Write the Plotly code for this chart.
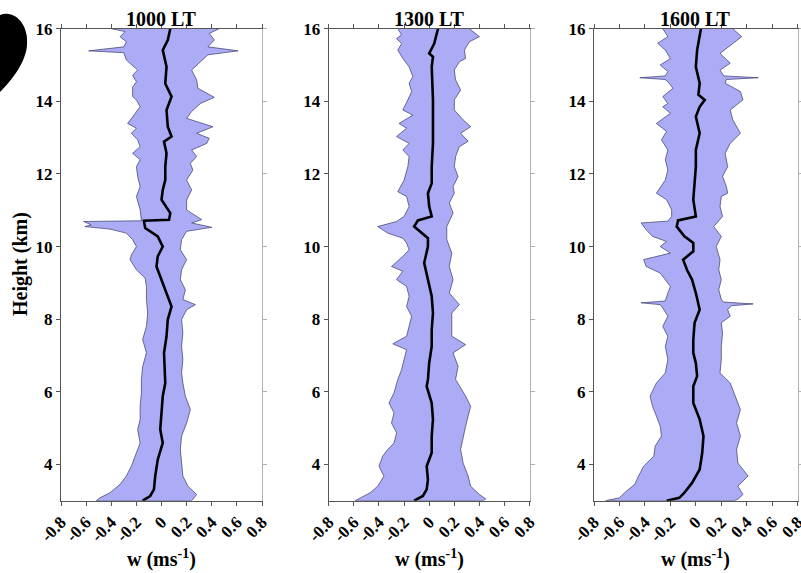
import plotly.graph_objects as go

# ---------------- data ----------------
panel_titles = ["1000 LT", "1300 LT", "1600 LT"]
x_tickvals = [-0.8, -0.6, -0.4, -0.2, 0, 0.2, 0.4, 0.6, 0.8]
x_ticktext = ["-0.8", "-0.6", "-0.4", "-0.2", "0", "0.2", "0.4", "0.6", "0.8"]
y_tickvals = [4, 6, 8, 10, 12, 14, 16]

# 1000 LT
h_lo_1000 = [16.00,15.92,15.78,15.64,15.50,15.39,15.34,15.14,14.86,14.72,14.54,14.39,14.13,14.04,13.85,13.67,13.39,13.26,13.12,12.94,12.75,12.57,12.39,12.20,11.93,11.65,11.38,11.01,10.71,10.69,10.60,10.55,10.48,10.37,10.19,10.00,9.77,9.64,9.36,9.13,8.90,8.54,8.17,7.80,7.44,7.07,6.70,6.34,5.97,5.60,5.24,4.96,4.59,4.32,3.95,3.68,3.45,3.22,3.08,3.00]
w_lo_1000 = [-0.40,-0.29,-0.33,-0.28,-0.30,-0.58,-0.30,-0.28,-0.19,-0.23,-0.20,-0.23,-0.23,-0.20,-0.17,-0.21,-0.27,-0.20,-0.24,-0.19,-0.17,-0.23,-0.17,-0.20,-0.19,-0.17,-0.20,-0.17,-0.16,-0.62,-0.56,-0.61,-0.41,-0.28,-0.23,-0.20,-0.24,-0.25,-0.20,-0.13,-0.12,-0.12,-0.11,-0.12,-0.15,-0.12,-0.15,-0.16,-0.16,-0.17,-0.17,-0.19,-0.17,-0.20,-0.24,-0.28,-0.33,-0.41,-0.49,-0.52]
h_hi_1000 = [16.00,15.87,15.69,15.50,15.39,15.28,15.09,14.86,14.59,14.36,14.11,13.94,13.72,13.53,13.30,13.12,12.98,12.84,12.66,12.48,12.29,12.11,11.83,11.56,11.28,11.01,10.74,10.65,10.53,10.42,10.19,9.91,9.64,9.36,9.09,8.81,8.54,8.40,8.26,7.99,7.62,7.25,6.89,6.52,6.24,5.88,5.51,5.14,4.78,4.41,4.04,3.68,3.40,3.17,3.00]
w_hi_1000 = [0.46,0.38,0.42,0.37,0.61,0.37,0.31,0.24,0.28,0.29,0.42,0.31,0.24,0.20,0.41,0.28,0.38,0.36,0.24,0.28,0.23,0.25,0.20,0.24,0.20,0.20,0.32,0.24,0.40,0.20,0.16,0.15,0.20,0.16,0.15,0.19,0.17,0.27,0.20,0.16,0.17,0.16,0.17,0.16,0.17,0.19,0.23,0.20,0.16,0.15,0.16,0.17,0.21,0.28,0.24]
h_m_1000 = [16.00,15.69,15.41,14.95,14.49,14.13,13.76,13.30,13.03,12.89,12.57,12.20,11.83,11.56,11.29,10.92,10.74,10.71,10.51,10.28,10.00,9.73,9.45,9.18,8.95,8.63,8.35,7.99,7.53,7.07,6.52,6.24,5.88,5.42,4.96,4.59,4.13,3.68,3.31,3.13,3.00]
w_m_1000 = [0.07,0.05,0.01,0.04,0.03,0.08,0.04,0.05,0.08,0.02,0.04,0.03,0.03,0.01,0.00,0.07,0.06,-0.14,-0.13,-0.03,0.01,-0.03,-0.04,-0.01,0.01,0.05,0.08,0.05,0.04,0.02,0.03,0.03,0.01,0.00,-0.01,0.01,-0.03,-0.05,-0.06,-0.09,-0.15]

# 1300 LT
h_lo_1300 = [16.00,15.83,15.73,15.59,15.41,15.18,14.95,14.68,14.50,14.27,14.04,13.76,13.62,13.39,13.26,13.03,12.84,12.66,12.48,12.20,11.83,11.51,11.38,11.10,10.83,10.69,10.55,10.37,10.23,10.10,9.91,9.73,9.45,9.32,9.09,8.90,8.63,8.35,8.08,7.80,7.53,7.32,7.16,6.89,6.61,6.34,5.97,5.69,5.42,5.14,4.87,4.59,4.41,4.23,3.95,3.68,3.40,3.22,3.08,3.00]
w_lo_1300 = [-0.25,-0.22,-0.26,-0.22,-0.25,-0.21,-0.16,-0.13,-0.16,-0.14,-0.17,-0.21,-0.13,-0.24,-0.18,-0.26,-0.16,-0.21,-0.16,-0.17,-0.20,-0.25,-0.18,-0.16,-0.20,-0.26,-0.41,-0.33,-0.21,-0.18,-0.16,-0.21,-0.30,-0.21,-0.26,-0.18,-0.16,-0.18,-0.14,-0.16,-0.18,-0.29,-0.18,-0.20,-0.22,-0.25,-0.28,-0.32,-0.28,-0.30,-0.26,-0.28,-0.33,-0.37,-0.40,-0.36,-0.41,-0.47,-0.55,-0.59]
h_hi_1300 = [16.00,15.78,15.64,15.41,15.18,15.09,14.86,14.59,14.31,14.04,13.76,13.49,13.30,13.12,12.90,12.75,12.48,12.20,11.93,11.65,11.47,11.20,10.92,10.55,10.19,9.82,9.45,9.09,8.72,8.40,8.17,7.80,7.53,7.30,7.07,6.70,6.34,5.88,5.60,5.33,5.05,4.78,4.41,4.04,3.68,3.40,3.17,3.05,3.00]
w_hi_1300 = [0.32,0.40,0.32,0.28,0.29,0.24,0.20,0.21,0.25,0.20,0.20,0.27,0.33,0.25,0.31,0.24,0.21,0.20,0.23,0.19,0.20,0.16,0.19,0.14,0.14,0.18,0.16,0.19,0.16,0.24,0.18,0.18,0.18,0.29,0.19,0.23,0.21,0.29,0.33,0.31,0.29,0.27,0.25,0.27,0.31,0.33,0.40,0.45,0.43]
h_m_1300 = [16.00,15.59,15.32,15.23,14.95,14.04,13.39,12.84,12.20,11.74,11.47,11.10,10.83,10.72,10.55,10.37,10.23,10.00,9.55,9.09,8.63,8.17,7.71,7.25,6.80,6.34,6.15,5.69,5.24,4.78,4.32,3.95,3.58,3.31,3.13,3.00]
w_m_1300 = [0.07,0.04,0.00,0.03,0.02,0.03,0.03,0.03,0.02,0.02,-0.01,0.00,0.02,-0.09,-0.12,-0.06,-0.01,-0.01,-0.04,-0.01,0.02,0.03,0.02,0.02,0.00,-0.01,-0.02,0.02,0.03,0.02,0.02,-0.02,-0.01,-0.02,-0.05,-0.12]

# 1600 LT
h_lo_1600 = [16.00,15.78,15.60,15.41,15.18,15.00,14.82,14.70,14.65,14.60,14.54,14.36,14.13,13.94,13.85,13.67,13.39,13.17,12.94,12.66,12.39,12.11,11.83,11.47,11.29,11.01,10.83,10.70,10.65,10.46,10.28,10.14,10.00,9.82,9.64,9.45,9.27,9.09,8.90,8.72,8.50,8.45,8.40,8.31,8.08,7.80,7.53,7.25,6.89,6.52,6.24,5.88,5.60,5.33,5.05,4.78,4.50,4.23,3.95,3.68,3.45,3.22,3.08,3.00]
w_lo_1600 = [-0.26,-0.22,-0.30,-0.24,-0.20,-0.28,-0.22,-0.24,-0.44,-0.24,-0.22,-0.18,-0.26,-0.22,-0.26,-0.20,-0.31,-0.23,-0.27,-0.22,-0.24,-0.22,-0.24,-0.31,-0.23,-0.19,-0.19,-0.22,-0.43,-0.39,-0.34,-0.23,-0.28,-0.20,-0.41,-0.39,-0.28,-0.24,-0.20,-0.22,-0.24,-0.43,-0.28,-0.26,-0.22,-0.26,-0.22,-0.24,-0.22,-0.24,-0.31,-0.36,-0.34,-0.31,-0.28,-0.27,-0.32,-0.33,-0.41,-0.45,-0.48,-0.56,-0.60,-0.71]
h_hi_1600 = [16.00,15.78,15.60,15.32,15.05,14.86,14.70,14.65,14.60,14.50,14.27,14.04,13.76,13.49,13.12,12.84,12.57,12.20,11.93,11.65,11.47,11.38,11.10,10.83,10.55,10.28,10.00,9.64,9.36,9.09,8.81,8.54,8.47,8.42,8.37,8.26,8.08,7.90,7.62,7.25,6.89,6.52,6.24,5.88,5.51,5.14,4.78,4.41,4.04,3.68,3.40,3.17,3.04,3.00]
w_hi_1600 = [0.29,0.36,0.29,0.19,0.27,0.19,0.22,0.49,0.24,0.23,0.35,0.37,0.27,0.29,0.35,0.27,0.23,0.25,0.21,0.24,0.25,0.20,0.19,0.21,0.14,0.20,0.16,0.19,0.18,0.20,0.18,0.20,0.22,0.45,0.28,0.25,0.27,0.20,0.21,0.20,0.20,0.19,0.27,0.31,0.35,0.32,0.35,0.32,0.33,0.41,0.33,0.37,0.33,0.30]
h_m_1600 = [16.00,15.78,15.41,14.95,14.50,14.18,14.04,13.85,13.58,13.12,12.66,12.20,11.74,11.29,10.83,10.72,10.55,10.28,10.10,9.87,9.64,9.36,9.09,8.72,8.26,7.90,7.44,7.07,6.79,6.43,6.15,5.69,5.24,4.78,4.32,3.86,3.49,3.22,3.08,3.00]
w_m_1600 = [0.04,0.03,0.01,0.00,0.03,0.02,0.07,0.03,0.00,0.03,0.00,0.00,-0.01,-0.02,0.00,-0.14,-0.15,-0.09,-0.02,-0.02,-0.10,-0.07,-0.03,0.00,0.03,-0.01,-0.02,-0.02,0.00,0.01,-0.02,-0.02,0.03,0.06,0.05,0.03,-0.03,-0.09,-0.13,-0.23]

panels = [
    (h_lo_1000, w_lo_1000, h_hi_1000, w_hi_1000, h_m_1000, w_m_1000),
    (h_lo_1300, w_lo_1300, h_hi_1300, w_hi_1300, h_m_1300, w_m_1300),
    (h_lo_1600, w_lo_1600, h_hi_1600, w_hi_1600, h_m_1600, w_m_1600),
]

# ---------------- layout geometry ----------------
W, H = 801, 573
x_domains = [(61 / W, 262 / W), (328.7 / W, 529.7 / W), (594 / W, 797.7 / W)]
y_domain = (1 - 500.7 / H, 1 - 28.7 / H)

FONT = "Liberation Serif"
FILL = "#ABABF6"
EDGE = "#3a3a66"
AXC = "#555555"
TICKFONT = dict(family=FONT, size=17, color="black", weight="bold")
TITLEFONT = dict(family=FONT, size=20, color="black", weight="bold")

fig = go.Figure()
layout = dict(
    width=W, height=H,
    margin=dict(l=0, r=0, t=0, b=0, autoexpand=False),
    paper_bgcolor="white", plot_bgcolor="white",
    showlegend=False,
    font=dict(family=FONT, color="black", size=16, weight="bold"),
)

annotations = []
for i, (hl, wl, hh, wh, hm, wm) in enumerate(panels):
    n = "" if i == 0 else str(i + 1)
    xa, ya = "x" + n, "y" + n
    yr = "y" + str(i + 4)
    bx = list(wl) + list(reversed(wh))
    by = list(hl) + list(reversed(hh))
    fig.add_trace(go.Scatter(x=bx, y=by, xaxis=xa, yaxis=ya, mode="lines",
                             fill="toself", fillcolor=FILL,
                             line=dict(color=EDGE, width=0.7), hoverinfo="skip"))
    fig.add_trace(go.Scatter(x=wm, y=hm, xaxis=xa, yaxis=ya, mode="lines",
                             line=dict(color="black", width=2.6)))
    fig.add_trace(go.Scatter(x=[None], y=[None], xaxis=xa, yaxis=yr, mode="lines"))

    layout["xaxis" + n] = dict(
        domain=x_domains[i], anchor=ya, range=[-0.8, 0.8],
        tickvals=x_tickvals, ticktext=x_ticktext, tickangle=-45,
        ticklabeloverflow="allow",
        showline=True, linecolor=AXC, linewidth=1, mirror="ticks",
        ticks="outside", ticklen=4, tickcolor=AXC, showgrid=False, zeroline=False,
        tickfont=TICKFONT,
    )
    layout["yaxis" + n] = dict(
        domain=y_domain, anchor=xa, range=[3, 16], tickvals=y_tickvals,
        showline=True, linecolor=AXC, linewidth=1, mirror=False,
        ticks="outside", ticklen=4, tickcolor=AXC, showgrid=False, zeroline=False,
        tickfont=TICKFONT,
    )
    layout["yaxis" + str(i + 4)] = dict(
        overlaying=ya, anchor=xa, side="right", range=[3, 16], tickvals=y_tickvals,
        showline=True, linecolor="#b0b0b0", linewidth=1,
        ticks="outside", ticklen=4, tickcolor="#b0b0b0",
        showticklabels=False, showgrid=False, zeroline=False,
    )
    xc = (x_domains[i][0] + x_domains[i][1]) / 2
    annotations.append(dict(text=panel_titles[i], x=xc, y=1 - 19 / H, xref="paper", yref="paper",
                            xanchor="center", yanchor="middle", showarrow=False, font=TITLEFONT))
    annotations.append(dict(text="w (ms<sup>-1</sup>)", x=xc, y=0.0, xref="paper", yref="paper",
                            xanchor="center", yanchor="bottom", showarrow=False, font=TITLEFONT))

annotations.append(dict(text="Height (km)", x=20 / W, y=1 - 264 / H, xref="paper", yref="paper",
                        xanchor="center", yanchor="middle", textangle=-90, showarrow=False,
                        font=TITLEFONT))
layout["annotations"] = annotations

# black blob in the top-left corner of the reference
def px(x):
    return x / W

def py(y):
    return 1 - y / H

blob = (f"M {px(0)},{py(15)} C {px(15)},{py(9)} {px(29)},{py(25)} {px(27)},{py(45)} "
        f"C {px(26)},{py(62)} {px(12)},{py(80)} {px(0)},{py(92)} Z")
layout["shapes"] = [dict(type="path", path=blob, xref="paper", yref="paper",
                         fillcolor="black", line=dict(color="black", width=0))]

fig.update_layout(**layout)
fig.write_html("out.html", config={"displayModeBar": False},
               post_script="document.body.style.margin='0px';document.body.style.overflow='hidden';")
